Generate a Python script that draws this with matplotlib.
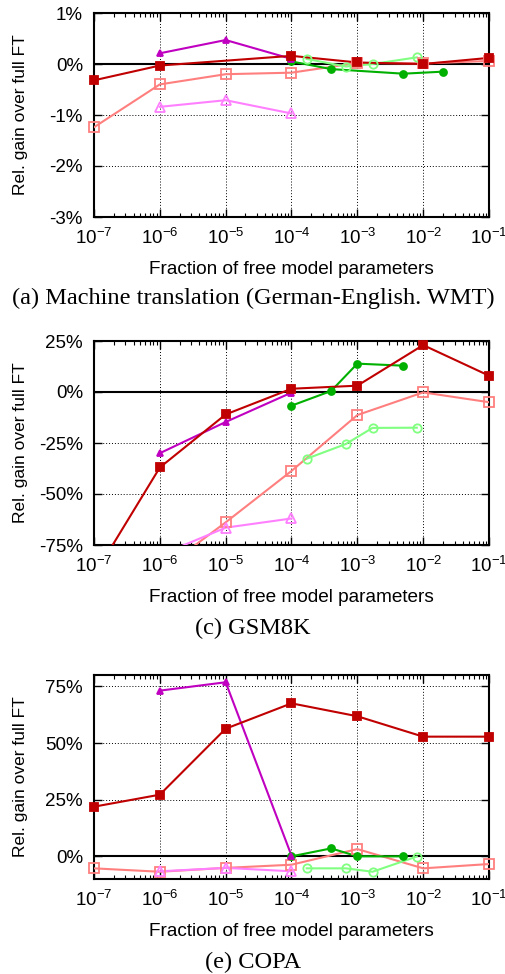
import numpy as np
import matplotlib
matplotlib.use('Agg')
import matplotlib.pyplot as plt
from matplotlib.ticker import FixedLocator, LogLocator, NullFormatter, FuncFormatter

plt.rcParams['font.family'] = ['Liberation Sans', 'DejaVu Sans']
plt.rcParams['mathtext.fontset'] = 'custom'
plt.rcParams['mathtext.rm'] = 'Liberation Sans'
plt.rcParams['mathtext.default'] = 'regular'

# ---- data (relative gain over full FT, in %) ----
x_dec = [1e-7, 1e-6, 1e-5, 1e-4, 1e-3, 1e-2, 1e-1]
x_tri = [1e-6, 1e-5, 1e-4]
x_green_a = [1e-4, 4e-4, 5e-3, 2e-2]
x_green = [1e-4, 4e-4, 1e-3, 5e-3]
x_lgreen = [1.7e-4, 6.7e-4, 1.7e-3, 8e-3]

# (a) machine translation
a_solid_sq = [-0.32, -0.03, None, 0.16, 0.03, 0.0, 0.12]
a_open_sq = [-1.24, -0.40, -0.20, -0.17, 0.02, 0.01, 0.06]
a_solid_tri = [0.21, 0.47, 0.10]
a_open_tri = [-0.84, -0.71, -0.97]
a_solid_circ = [0.05, -0.10, -0.19, -0.15]
a_open_circ = [0.10, -0.05, 0.0, 0.13]

# (c) GSM8K
c_solid_sq = [-90.0, -37.0, -11.0, 1.6, 3.1, 23.0, 8.0]
c_open_sq = [None, -88.0, -63.9, -38.7, -11.3, -0.2, -5.0]
c_solid_tri = [-30.0, -14.7, -0.3]
c_open_tri = [-80.0, -66.5, -62.0]
c_solid_circ = [-6.7, 0.5, 13.9, 12.9]
c_open_circ = [-32.7, -25.5, -17.6, -17.5]

# (e) COPA
e_solid_sq = [21.9, 27.2, 56.3, 67.5, 61.8, 52.8, 52.8]
e_open_sq = [-5.3, -6.8, -5.1, -3.7, 3.2, -5.3, -3.4]
e_solid_tri = [73.1, 76.8, 0.3]
e_open_tri = [-6.6, -5.1, -6.6]
e_solid_circ = [0.0, 3.5, 0.0, 0.0]
e_open_circ = [-5.3, -5.3, -6.8, -0.1]

captions = ['(a) Machine translation (German-English. WMT)', '(c) GSM8K', '(e) COPA']
ylims = [(-3, 1), (-75, 25), (-10, 80)]
yticks = [[-3, -2, -1, 0, 1], [-75, -50, -25, 0, 25], [0, 25, 50, 75]]

DARK_RED = '#c00000'
LIGHT_RED = '#ff7f7f'
MAGENTA = '#c000c0'
LIGHT_MAG = '#ff80ff'
GREEN = '#00b000'
LIGHT_GREEN = '#80ff80'

W, H = 506, 974
fig = plt.figure(figsize=(W / 100, H / 100), dpi=100)


def px_axes(left, top, right, bottom):
    return fig.add_axes([left / W, 1 - bottom / H, (right - left) / W, (bottom - top) / H])


def series(ax, xs, ys, color, marker, filled, ms, ylim):
    xs = np.array(xs, dtype=float)
    ys = np.array([np.nan if v is None else v for v in ys], dtype=float)
    ok = ~np.isnan(ys)
    ax.plot(xs[ok], ys[ok], '-', color=color, lw=1.5, zorder=3)
    # markers only for points inside the y range, drawn unclipped at the frame
    inside = ok & (ys >= ylim[0] - 1e-9) & (ys <= ylim[1] + 1e-9)
    ax.plot(xs[inside], ys[inside], ls='none', marker=marker, ms=ms,
            mfc=color if filled else 'none', mec=color, mew=1.3,
            clip_on=False, zorder=4)


panels = [
    (13, 217, x_green_a, a_solid_sq, a_open_sq, a_solid_tri, a_open_tri, a_solid_circ, a_open_circ),
    (341, 545, x_green, c_solid_sq, c_open_sq, c_solid_tri, c_open_tri, c_solid_circ, c_open_circ),
    (675, 879, x_green, e_solid_sq, e_open_sq, e_solid_tri, e_open_tri, e_solid_circ, e_open_circ),
]

for i, (top, bot, xg, ssq, osq, stri, otri, scirc, ocirc) in enumerate(panels):
    ax = px_axes(94, top, 489, bot)
    ax.set_xscale('log')
    ax.set_xlim(1e-7, 1e-1)
    ax.set_ylim(*ylims[i])
    ylim = ylims[i]

    ax.axhline(0, color='black', lw=1.5, zorder=2)
    series(ax, x_dec, osq, LIGHT_RED, 's', False, 6.5, ylim)
    series(ax, x_tri, otri, LIGHT_MAG, '^', False, 6.5, ylim)
    series(ax, x_lgreen, ocirc, LIGHT_GREEN, 'o', False, 6.0, ylim)
    series(ax, xg, scirc, GREEN, 'o', True, 5.0, ylim)
    series(ax, x_tri, stri, MAGENTA, '^', True, 5.0, ylim)
    series(ax, x_dec, ssq, DARK_RED, 's', True, 6.0, ylim)

    ax.xaxis.set_major_locator(FixedLocator(x_dec))
    ax.xaxis.set_minor_locator(LogLocator(base=10, subs=np.arange(2, 10), numticks=20))
    ax.xaxis.set_minor_formatter(NullFormatter())
    ax.xaxis.set_major_formatter(FuncFormatter(lambda v, p: r'$10^{%d}$' % int(round(np.log10(v)))))
    ax.yaxis.set_major_locator(FixedLocator(yticks[i]))
    ax.yaxis.set_major_formatter(FuncFormatter(lambda v, p: '%d%%' % v))

    ax.grid(True, which='major', color='black', ls=(0, (1, 2)), lw=0.7, zorder=1)
    ax.tick_params(which='both', direction='in', top=True, right=True, labelsize=13.5)
    ax.tick_params(axis='x', which='major', pad=8)
    ax.tick_params(axis='y', which='major', pad=8)
    ax.tick_params(which='major', length=6, width=1)
    ax.tick_params(which='minor', length=3, width=0.8)
    for s in ax.spines.values():
        s.set_linewidth(1.5)

    ax.set_xlabel('Fraction of free model parameters', fontsize=13.7, labelpad=9)
    ax.set_ylabel('Rel. gain over full FT', fontsize=12.5)
    ax.yaxis.set_label_coords(-66 / 395, 0.5)

    cap_y = [298, 628, 962][i]
    fig.text(253 / W, 1 - cap_y / H, captions[i], ha='center', va='center',
             fontsize=17.6, family=['Liberation Serif', 'DejaVu Serif'])

fig.savefig('out.png', dpi=100)
